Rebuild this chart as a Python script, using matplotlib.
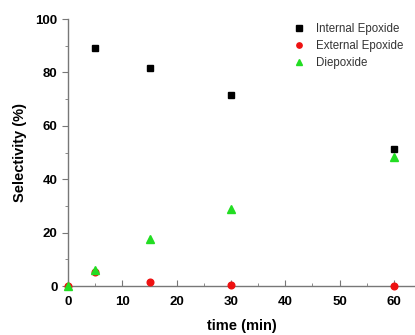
import matplotlib
matplotlib.use('Agg')
from matplotlib import pyplot as plt
from matplotlib.ticker import MultipleLocator

plt.rcParams['font.family'] = ['Liberation Sans', 'DejaVu Sans']

# time points (min)
time = [0, 5, 15, 30, 60]
# selectivity (%)
internal = [None, 89.2, 81.5, 71.5, 51.5]
external = [0, 5.2, 1.5, 0.3, 0.0]
diepoxide = [0, 6.0, 17.5, 29.0, 48.5]

fig = plt.figure(figsize=(4.15, 3.35), dpi=100)
ax = fig.add_axes([0.164, 0.146, 0.836, 0.797])

tx = [t for t, v in zip(time, internal) if v is not None]
iv = [v for v in internal if v is not None]
ax.plot(tx, iv, 's', color='black', ms=4.8, label='Internal Epoxide', clip_on=False, zorder=3)
ax.plot(time, external, 'o', color='#ee1111', ms=4.8, label='External Epoxide', clip_on=False, zorder=3)
ax.plot(time, diepoxide, '^', color='#22dd22', ms=5.2, label='Diepoxide', clip_on=False, zorder=4)

ax.set_xlim(0, 63.9)
ax.set_ylim(0, 100)
ax.xaxis.set_major_locator(MultipleLocator(10))
ax.xaxis.set_minor_locator(MultipleLocator(5))
ax.yaxis.set_major_locator(MultipleLocator(20))
ax.yaxis.set_minor_locator(MultipleLocator(10))

for s in ['top', 'right']:
    ax.spines[s].set_visible(False)
for s in ['left', 'bottom']:
    ax.spines[s].set_color('#777777')
    ax.spines[s].set_linewidth(1.0)

ax.tick_params(axis='x', which='both', direction='in', colors='#777777', labelcolor='black')
ax.tick_params(axis='x', which='major', length=4)
ax.tick_params(axis='x', which='minor', length=2.5)
ax.tick_params(axis='y', which='both', direction='out', colors='#777777', labelcolor='black')
ax.tick_params(axis='y', which='major', length=4)
ax.tick_params(axis='y', which='minor', length=2.5)
for lab in ax.get_xticklabels() + ax.get_yticklabels():
    lab.set_fontweight('bold')
    lab.set_fontsize(9.5)
ax.tick_params(axis='x', pad=7)

ax.set_xlabel('time (min)', fontsize=10.5, fontweight='bold', labelpad=8)
ax.set_ylabel('Selectivity (%)', fontsize=10.5, fontweight='bold', labelpad=6)

leg = ax.legend(loc='upper left', bbox_to_anchor=(0.615, 1.025), frameon=False,
                fontsize=8.3, handletextpad=0.9, labelspacing=0.45,
                markerscale=0.8, handlelength=1.2)
for t in leg.get_texts():
    t.set_color('#333333')

fig.savefig('out.png', dpi=100)
